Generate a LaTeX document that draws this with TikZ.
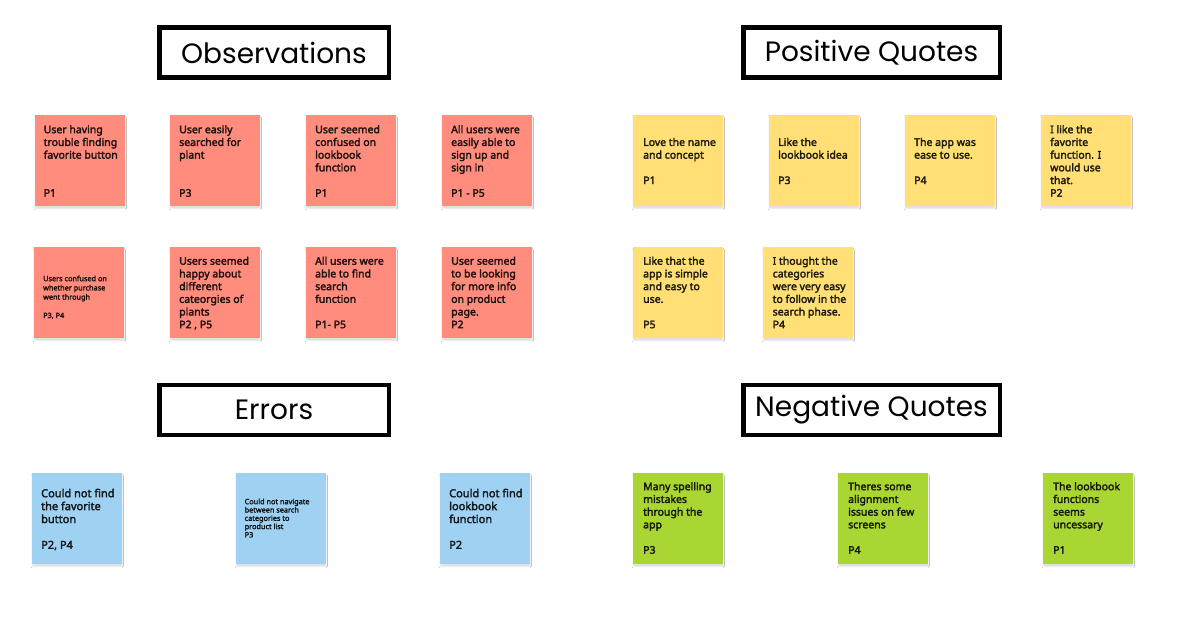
\documentclass[tikz,border=0pt]{standalone}
\usepackage{fontspec}
\usetikzlibrary{shadows.blur}
\newfontfamily\notefont{Noto Sans}[FakeBold=3]
\newfontfamily\headfont{Poppins}
\definecolor{obsred}{HTML}{FF8C7D}
\definecolor{posyel}{HTML}{FFDF76}
\definecolor{errblue}{HTML}{9ED1F2}
\definecolor{neggreen}{HTML}{AAD633}
\tikzset{
  sticky/.style={draw=none, fill=#1, minimum width=90pt, minimum height=91pt, inner sep=0pt, anchor=north west,
    blur shadow={shadow xshift=0pt, shadow yshift=-2.5pt, shadow blur steps=4, shadow blur radius=1.2pt, shadow opacity=12}},
  ntext/.style={anchor=north west, inner sep=0pt, align=left, text=black, text opacity=0.78,
    font=\notefont\fontsize{10.5}{12.7}\selectfont},
  stext/.style={ntext, font=\notefont\fontsize{7.3}{9.2}\selectfont},
  etext/.style={ntext, font=\notefont\fontsize{11}{12.9}\selectfont},
  header/.style={draw=black, line width=4.5pt, fill=white, minimum width=229.5pt, minimum height=50pt, inner sep=0pt,
    font=\headfont\fontsize{28}{32}\selectfont},
}
\newcommand\fl{\rule{0pt}{9pt}}
\newcommand\sfl{\rule{0pt}{6pt}}
\begin{document}
\begin{tikzpicture}[x=1pt,y=-1pt]
\useasboundingbox[fill=white] (0,0) rectangle (1200,637);

% headers
\node[header] (hobs) at (274,52.5) {Observations};
\node[header, minimum width=256.5pt] (hpos) at (871.5,52.5) {Positive Quotes};
\node[header] (herr) at (274,410) {Errors};
\node[header, minimum width=256.5pt] (hneg) at (871.5,410) {Negative Quotes};

% Observations row 1
\node[sticky=obsred] (o1) at (35,115) {};
\node[ntext] (o1t) at (43.5,124) {\fl User having\\trouble finding\\favorite button\\[25.4pt]P1};
\node[sticky=obsred] (o2) at (170,115) {};
\node[ntext] (o2t) at (179,124) {\fl User easily\\searched for\\plant\\[25.4pt]P3};
\node[sticky=obsred] (o3) at (306,115) {};
\node[ntext] (o3t) at (315,124) {\fl User seemed\\confused on\\lookbook\\function\\[12.7pt]P1};
\node[sticky=obsred] (o4) at (442,115) {};
\node[ntext] (o4t) at (451,124) {\fl All users were\\easily able to\\sign up and\\sign in\\[12.7pt]P1 - P5};
% Observations row 2
\node[sticky=obsred] (o5) at (34,247) {};
\node[stext] (o5t) at (43,275) {\sfl Users confused on\\whether purchase\\went through\\[9.2pt]P3, P4};
\node[sticky=obsred] (o6) at (170,247) {};
\node[ntext] (o6t) at (179,255.5) {\fl Users seemed\\happy about\\different\\cateorgies of\\plants\\P2 , P5};
\node[sticky=obsred] (o7) at (306,247) {};
\node[ntext] (o7t) at (315,255.5) {\fl All users were\\able to find\\search\\function\\[12.7pt]P1- P5};
\node[sticky=obsred] (o8) at (442,247) {};
\node[ntext] (o8t) at (451,255.5) {\fl User seemed\\to be looking\\for more info\\on product\\page.\\P2};

% Positive quotes row 1
\node[sticky=posyel] (p1) at (633,115) {};
\node[ntext] (p1t) at (643,136.7) {\fl Love the name\\and concept\\[12.7pt]P1};
\node[sticky=posyel] (p2) at (769,115) {};
\node[ntext] (p2t) at (778,136.7) {\fl Like the\\lookbook idea\\[12.7pt]P3};
\node[sticky=posyel] (p3) at (905,115) {};
\node[ntext] (p3t) at (914,136.7) {\fl The app was\\ease to use.\\[12.7pt]P4};
\node[sticky=posyel] (p4) at (1041,115) {};
\node[ntext] (p4t) at (1050,124) {\fl I like the\\favorite\\function. I\\would use\\that.\\P2};
% Positive quotes row 2
\node[sticky=posyel] (p5) at (633,247) {};
\node[ntext] (p5t) at (643,255.5) {\fl Like that the\\app is simple\\and easy to\\use.\\[12.7pt]P5};
\node[sticky=posyel] (p6) at (763,247) {};
\node[ntext] (p6t) at (772.5,255.5) {\fl I thought the\\categories\\were very easy\\to follow in the\\search phase.\\P4};

% Errors
\node[sticky=errblue] (e1) at (32,473) {};
\node[etext] (e1t) at (41,488) {\fl Could not find\\the favorite\\button\\[12.9pt]P2, P4};
\node[sticky=errblue] (e2) at (236,473) {};
\node[stext, font=\notefont\fontsize{7.3}{8.3}\selectfont] (e2t) at (244.5,498) {\sfl Could not navigate\\between search\\categories to\\product list\\P3};
\node[sticky=errblue] (e3) at (440,473) {};
\node[etext] (e3t) at (449,488) {\fl Could not find\\lookbook\\function\\[12.9pt]P2};

% Negative quotes
\node[sticky=neggreen] (n1) at (633,473) {};
\node[ntext] (n1t) at (643,481) {\fl Many spelling\\mistakes\\through the\\app\\[12.7pt]P3};
\node[sticky=neggreen] (n2) at (838,473) {};
\node[ntext] (n2t) at (848,481) {\fl Theres some\\alignment\\issues on few\\screens\\[12.7pt]P4};
\node[sticky=neggreen] (n3) at (1043,473) {};
\node[ntext] (n3t) at (1053,481) {\fl The lookbook\\functions\\seems\\uncessary\\[12.7pt]P1};
\end{tikzpicture}
\end{document}
